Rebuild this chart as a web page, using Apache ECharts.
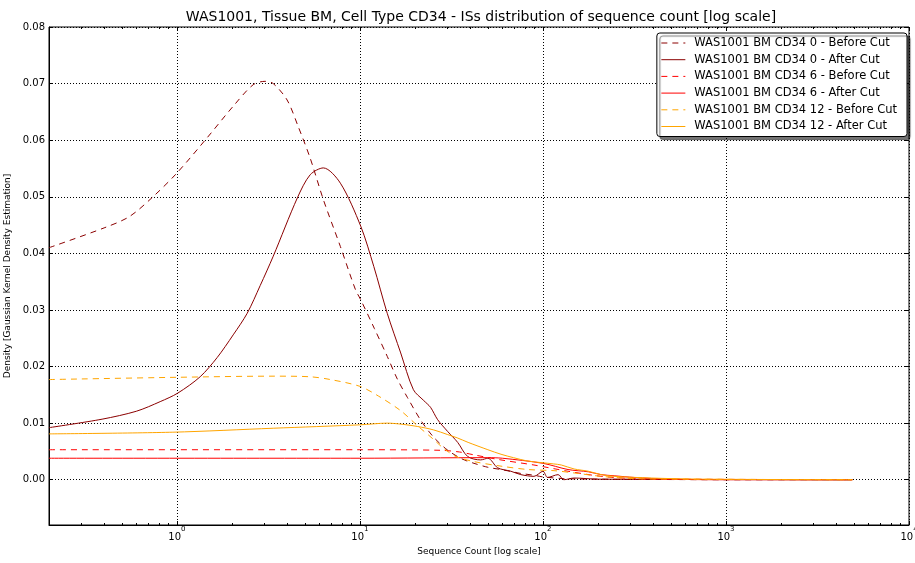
<!DOCTYPE html>
<html>
<head>
<meta charset="utf-8">
<script src="https://cdn.jsdelivr.net/npm/echarts@6/dist/echarts.min.js"></script>
<style>html,body{margin:0;padding:0;background:#fff;}#c{width:915px;height:563px;}</style>
</head>
<body>
<div id="c"></div>
<script>
const titleText = 'WAS1001, Tissue BM, Cell Type CD34 - ISs distribution of sequence count [log scale]';
const xName = 'Sequence Count [log scale]';
const yName = 'Density [Gaussian Kernel Density Estimation]';
const seriesNames = [
  'WAS1001 BM CD34 0 - Before Cut',
  'WAS1001 BM CD34 0 - After Cut',
  'WAS1001 BM CD34 6 - Before Cut',
  'WAS1001 BM CD34 6 - After Cut',
  'WAS1001 BM CD34 12 - Before Cut',
  'WAS1001 BM CD34 12 - After Cut'
];
const minorXTicks = [0.3,0.4,0.5,0.6,0.7,0.8,0.9,2,3,4,5,6,7,8,9,20,30,40,50,60,70,80,90,200,300,400,500,600,700,800,900,2000,3000,4000,5000,6000,7000,8000,9000];

const before0X = [0.2, 0.4, 0.55, 0.74, 1.0, 1.46, 2.03, 2.61, 3.03, 3.36, 4.0, 4.6, 5.35, 6.31, 7.82, 9.45, 10.1, 12, 14.1, 16, 18.2, 21.5, 25.3, 30.2, 36, 42, 50, 59, 66, 76, 89, 100, 130, 200, 400, 1000, 4900];
const before0Y = [0.0410, 0.0445, 0.0465, 0.0500, 0.0542, 0.0604, 0.0660, 0.0698, 0.0704, 0.0700, 0.0671, 0.0624, 0.0568, 0.0495, 0.0412, 0.0336, 0.0318, 0.0267, 0.0218, 0.0178, 0.0145, 0.0105, 0.0075, 0.0052, 0.0037, 0.0029, 0.0022, 0.0018, 0.0015, 0.0011, 0.0008, 0.0005, 0.0002, 0.0001, 0.00005, 0, 0];

const after0X = [0.2, 0.39, 0.6, 0.81, 1.01, 1.34, 1.66, 2.03, 2.42, 2.85, 3.36, 4.55, 5.35, 6.31, 7.82, 10.1, 11.9, 14.1, 16.7, 19.6, 22.3, 24.3, 26.6, 30.2, 34.2, 38.8, 45.7, 50, 56.6, 66.8, 75.7, 89.3, 100, 106, 121, 130, 148, 200, 4900];
const after0Y = [0.0092, 0.0107, 0.0121, 0.0138, 0.0153, 0.0182, 0.0216, 0.0256, 0.0294, 0.0343, 0.0395, 0.0498, 0.0539, 0.0551, 0.0524, 0.0448, 0.0377, 0.0294, 0.0224, 0.0159, 0.0140, 0.0128, 0.0106, 0.0085, 0.0066, 0.0041, 0.0035, 0.0038, 0.0021, 0.0015, 0.0009, 0.0006, 0.0015, 0.0004, 0.0009, 0.0000, 0.0003, 0.0001, 0];

const before6X = [0.2, 10, 27.6, 35, 41.9, 58.9, 89.3, 137, 208, 315, 500, 4900];
const before6Y = [0.0053, 0.0053, 0.0052, 0.0049, 0.0044, 0.0035, 0.0026, 0.0015, 0.0006, 0.0002, 0.0001, 0];

const after6X = [0.2, 10, 50, 60, 100, 137, 177, 208, 245, 315, 484, 1000, 4900];
const after6Y = [0.0038, 0.0038, 0.0039, 0.0038, 0.0029, 0.0018, 0.0014, 0.0009, 0.0007, 0.0004, 0.0001, 0, 0];

const before12X = [0.2, 1.0, 3.4, 5.3, 6.9, 10, 12.6, 16.7, 20.7, 25.3, 28.5, 33.5, 42, 59, 83, 115, 148, 208, 315, 500, 4900];
const before12Y = [0.0177, 0.0181, 0.0183, 0.0182, 0.0177, 0.0165, 0.0148, 0.0122, 0.0095, 0.0071, 0.0056, 0.0041, 0.0032, 0.0024, 0.0018, 0.0016, 0.0012, 0.0006, 0.0002, 0.0001, 0];

const after12X = [0.2, 0.95, 3.36, 10, 14.1, 17, 20.7, 25.3, 30, 34, 39, 50, 59, 69, 83, 114, 126, 148, 177, 208, 245, 391, 734, 4900];
const after12Y = [0.0081, 0.0084, 0.0091, 0.0097, 0.0100, 0.0098, 0.0094, 0.0088, 0.0080, 0.0074, 0.0066, 0.0053, 0.0045, 0.0039, 0.0033, 0.0028, 0.0026, 0.0019, 0.0015, 0.0009, 0.0006, 0.0003, 0.0001, 0];

const DARK = '#8B0000', RED = '#FF0000', ORANGE = '#FFA500';
const FONT = 'DejaVu Sans';

function zip(xs, ys) { return xs.map((x, i) => [x, ys[i]]); }
const seriesData = [
  [before0X, before0Y, DARK, true],
  [after0X, after0Y, DARK, false],
  [before6X, before6Y, RED, true],
  [after6X, after6Y, RED, false],
  [before12X, before12Y, ORANGE, true],
  [after12X, after12Y, ORANGE, false]
];

function isDecade(v) {
  const l = Math.log10(v);
  return Math.abs(l - Math.round(l)) < 1e-6;
}

const X_MIN = 0.2, X_MAX = 10000, Y_MIN = -0.008, Y_MAX = 0.08;
const baseX = { type: 'log', logBase: 10, min: X_MIN, max: X_MAX, gridIndex: 0 };
const baseY = { type: 'value', min: Y_MIN, max: Y_MAX, splitNumber: 9, gridIndex: 0 };

const chart = echarts.init(document.getElementById('c'), null, { renderer: 'canvas' });
chart.setOption({
  animation: false,
  backgroundColor: '#fff',
  textStyle: { fontFamily: FONT },
  title: {
    text: titleText, left: 476, top: 5, textAlign: 'center',
    textStyle: { fontFamily: FONT, fontSize: 14, fontWeight: 'normal', color: '#000' }
  },
  grid: { left: 49, right: 6, top: 27, bottom: 38, show: true, borderColor: '#000', borderWidth: 1,
          backgroundColor: 'transparent', containLabel: false, outerBoundsMode: 'none' },
  legend: {
    orient: 'vertical', right: 8, top: 33,
    itemWidth: 24, itemHeight: 14, itemGap: 2.7,
    padding: [3, 10, 3, 4],
    backgroundColor: '#fff', borderColor: '#000', borderWidth: 1, borderRadius: 3,
    shadowColor: 'rgba(0,0,0,0.55)', shadowOffsetX: 3, shadowOffsetY: 3, shadowBlur: 1,
    itemStyle: { color: 'rgba(0,0,0,0)', borderColor: 'rgba(0,0,0,0)', borderWidth: 0, opacity: 0 },
    lineStyle: { width: 1 },
    textStyle: { fontFamily: FONT, fontSize: 11.5, lineHeight: 14, color: '#000', padding: [0, 0, 0, 4] },
    data: seriesNames
  },
  xAxis: [
    Object.assign({}, baseX, {
      position: 'bottom',
      name: xName, nameLocation: 'middle', nameGap: 17,
      nameTextStyle: { fontFamily: FONT, fontSize: 9, color: '#000' },
      axisLine: { show: true, onZero: false, lineStyle: { color: '#000', width: 1 } },
      axisTick: { show: true, inside: true, length: 4, lineStyle: { color: '#000' } },
      splitLine: { show: true, lineStyle: { color: '#000', type: [1, 2], width: 1 } },
      axisLabel: {
        margin: 1, color: '#000',
        formatter: function (v) {
          if (!isDecade(v)) return '';
          return '{b|10}{s|' + Math.round(Math.log10(v)) + '}';
        },
        rich: {
          b: { fontFamily: FONT, fontSize: 10, color: '#000', lineHeight: 16, verticalAlign: 'bottom' },
          s: { fontFamily: FONT, fontSize: 7, color: '#000', lineHeight: 16, verticalAlign: 'top' }
        }
      }
    }),
    Object.assign({}, baseX, {
      position: 'top',
      axisLine: { show: false, onZero: false },
      axisTick: { show: true, inside: true, length: 4, lineStyle: { color: '#000' } },
      splitLine: { show: false }, axisLabel: { show: false }
    }),
    Object.assign({}, baseX, {
      position: 'bottom',
      axisLine: { show: false, onZero: false },
      axisTick: { show: true, inside: true, length: 2, customValues: minorXTicks, lineStyle: { color: '#000' } },
      splitLine: { show: false }, axisLabel: { show: false }
    }),
    Object.assign({}, baseX, {
      position: 'top',
      axisLine: { show: false, onZero: false },
      axisTick: { show: true, inside: true, length: 2, customValues: minorXTicks, lineStyle: { color: '#000' } },
      splitLine: { show: false }, axisLabel: { show: false }
    })
  ],
  yAxis: [
    Object.assign({}, baseY, {
      position: 'left',
      name: yName, nameLocation: 'middle', nameGap: 28,
      nameTextStyle: { fontFamily: FONT, fontSize: 9, color: '#000' },
      axisLine: { show: true, onZero: false, lineStyle: { color: '#000', width: 1 } },
      axisTick: { show: true, inside: true, length: 4, lineStyle: { color: '#000' } },
      splitLine: { show: true, lineStyle: { color: '#000', type: [1, 2], width: 1 } },
      axisLabel: {
        margin: 4, color: '#000', fontFamily: FONT, fontSize: 10,
        formatter: function (v) {
          if (v < -1e-9) return '';
          return v.toFixed(2);
        }
      }
    }),
    Object.assign({}, baseY, {
      position: 'right',
      axisLine: { show: false, onZero: false },
      axisTick: { show: true, inside: true, length: 4, lineStyle: { color: '#000' } },
      splitLine: { show: false }, axisLabel: { show: false }
    })
  ],
  series: seriesData.map((s, i) => ({
    name: seriesNames[i],
    type: 'line',
    xAxisIndex: 0, yAxisIndex: 0,
    data: zip(s[0], s[1]),
    symbol: 'none', showSymbol: false,
    smooth: 0.3,
    color: s[2],
    lineStyle: { color: s[2], width: 1, type: s[3] ? [6, 5] : 'solid' },
    z: 2 + i
  }))
});
</script>
</body>
</html>
